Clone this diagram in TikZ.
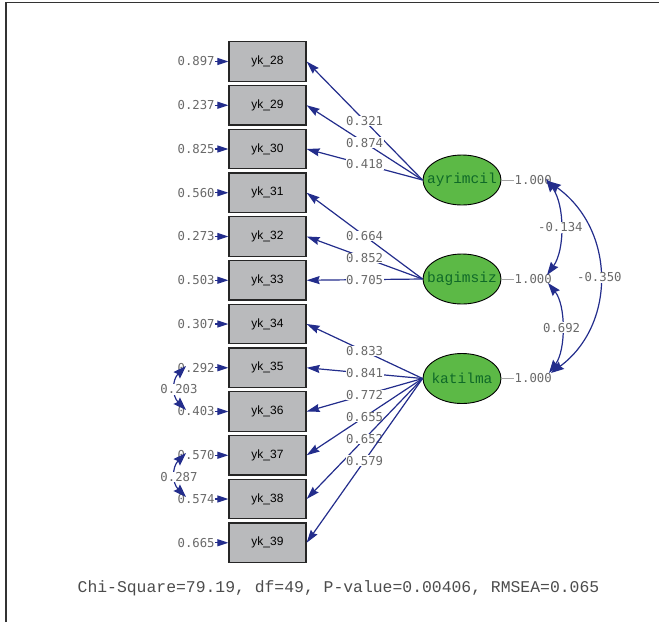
\documentclass[tikz,border=0pt]{standalone}
\usepackage{fontspec}
\setmainfont{Liberation Sans}
\newfontfamily\numfont{DejaVu Sans Mono}
\newfontfamily\courfont{Liberation Mono}
\usetikzlibrary{shapes.geometric,arrows.meta,positioning}
\definecolor{navy}{RGB}{35,45,140}
\definecolor{numgray}{RGB}{105,105,105}
\definecolor{boxgray}{RGB}{185,186,188}
\definecolor{latgreen}{RGB}{92,185,70}
\definecolor{txtgreen}{RGB}{15,105,40}
\begin{document}
\begin{tikzpicture}[x=1pt,y=-1pt,
 obs/.style={draw=black!85, line width=1.3pt, fill=boxgray, minimum width=77pt, minimum height=39.5pt, inner sep=0pt, font=\fontsize{12}{12}\selectfont},
 lat/.style={ellipse, draw=black, line width=0.9pt, fill=latgreen, minimum width=78pt, minimum height=50pt, inner sep=0pt},
 lattext/.style={font=\courfont\fontsize{14.5}{15}\selectfont, text=txtgreen, inner sep=0pt},
 num/.style={font=\numfont\fontsize{12.3}{12}\selectfont, text=numgray, inner sep=0.5pt},
 numw/.style={num, fill=white},
 load/.style={draw=navy, line width=1.2pt, -{Stealth[length=13pt,width=8pt,inset=1.5pt]}},
 errarr/.style={draw=navy, line width=1.2pt, -{Triangle[length=11pt,width=7pt]}},
 cov/.style={draw=navy, line width=1.2pt, {Stealth[length=13pt,width=9pt,inset=1.5pt]}-{Stealth[length=13pt,width=9pt,inset=1.5pt]}},
 varline/.style={draw=numgray!60, line width=0.9pt},
]
\useasboundingbox (0,0) rectangle (659,622);
\draw[line width=1.5pt, black!80] (6,622) -- (6,2.5) -- (659,2.5);

% observed variables
\foreach \n [count=\i from 0] in {28,...,39}
  \node[obs] (yk\n) at (267.5, 61.5+43.75*\i) {yk\_\n};

% error variances
\foreach \n/\v in {28/0.897,29/0.237,30/0.825,31/0.560,32/0.273,33/0.503,34/0.307,35/0.292,36/0.403,37/0.570,38/0.574,39/0.665}{
  \node[num, left=13pt of yk\n] (e\n) {\v};
  \draw[errarr] (e\n.east) -- (yk\n.west);
}

% latent variables
\node[lat] (ayr) at (462,180) {};
\node[lattext] at (ayr) {ayrimcil};
\node[lat] (bag) at (462,279) {};
\node[lattext] at (bag) {bagimsiz};
\node[lat] (kat) at (462,378.5) {};
\node[lattext] at (kat) {katilma};

% loadings
\foreach \n/\v in {28/0.321,29/0.874,30/0.418}
  \draw[load] (ayr.west) -- node[numw]{\v} (yk\n.east);
\foreach \n/\v in {31/0.664,32/0.852,33/0.705}
  \draw[load] (bag.west) -- node[numw]{\v} (yk\n.east);
\foreach \n/\v in {34/0.833,35/0.841,36/0.772,37/0.655,38/0.652,39/0.579}
  \draw[load] (kat.west) -- node[numw]{\v} (yk\n.east);

% latent variances
\node[num, anchor=west] (v1) at (514,180) {1.000};
\node[num, anchor=west] (v2) at (514,279) {1.000};
\node[num, anchor=west] (v3) at (514,378.5) {1.000};
\draw[varline] (ayr.east) -- (v1.west);
\draw[varline] (bag.east) -- (v2.west);
\draw[varline] (kat.east) -- (v3.west);

% latent covariances
\coordinate (a1) at (546,179);
\coordinate (a2) at (548,181);
\coordinate (b1) at (547,275);
\coordinate (b2) at (548,283);
\coordinate (c1) at (549,373);
\coordinate (c2) at (551,373);
\draw[cov] (a1) .. controls (565,205) and (565,250) .. node[numw]{-0.134} (b1);
\draw[cov] (b2) .. controls (566,305) and (566,350) .. node[numw]{0.692} (c1);
\draw[cov] (a2) .. controls (616,230) and (616,325) .. node[numw]{-0.350} (c2);

% error covariances
\coordinate (r35) at (186,366);
\coordinate (r36) at (186,410);
\coordinate (r37) at (186,453);
\coordinate (r38) at (186,497);
\draw[cov] (r35) .. controls (172,380) and (172,396) .. (r36) node[numw] at (179,389.5) {0.203};
\draw[cov] (r37) .. controls (172,467) and (172,483) .. (r38) node[numw] at (179,477) {0.287};

% fit statistics
\node[font=\courfont\fontsize{16.4}{17}\selectfont, text=black!70] (fit) at (338.5,588) {Chi-Square=79.19, df=49, P-value=0.00406, RMSEA=0.065};
\end{tikzpicture}
\end{document}
